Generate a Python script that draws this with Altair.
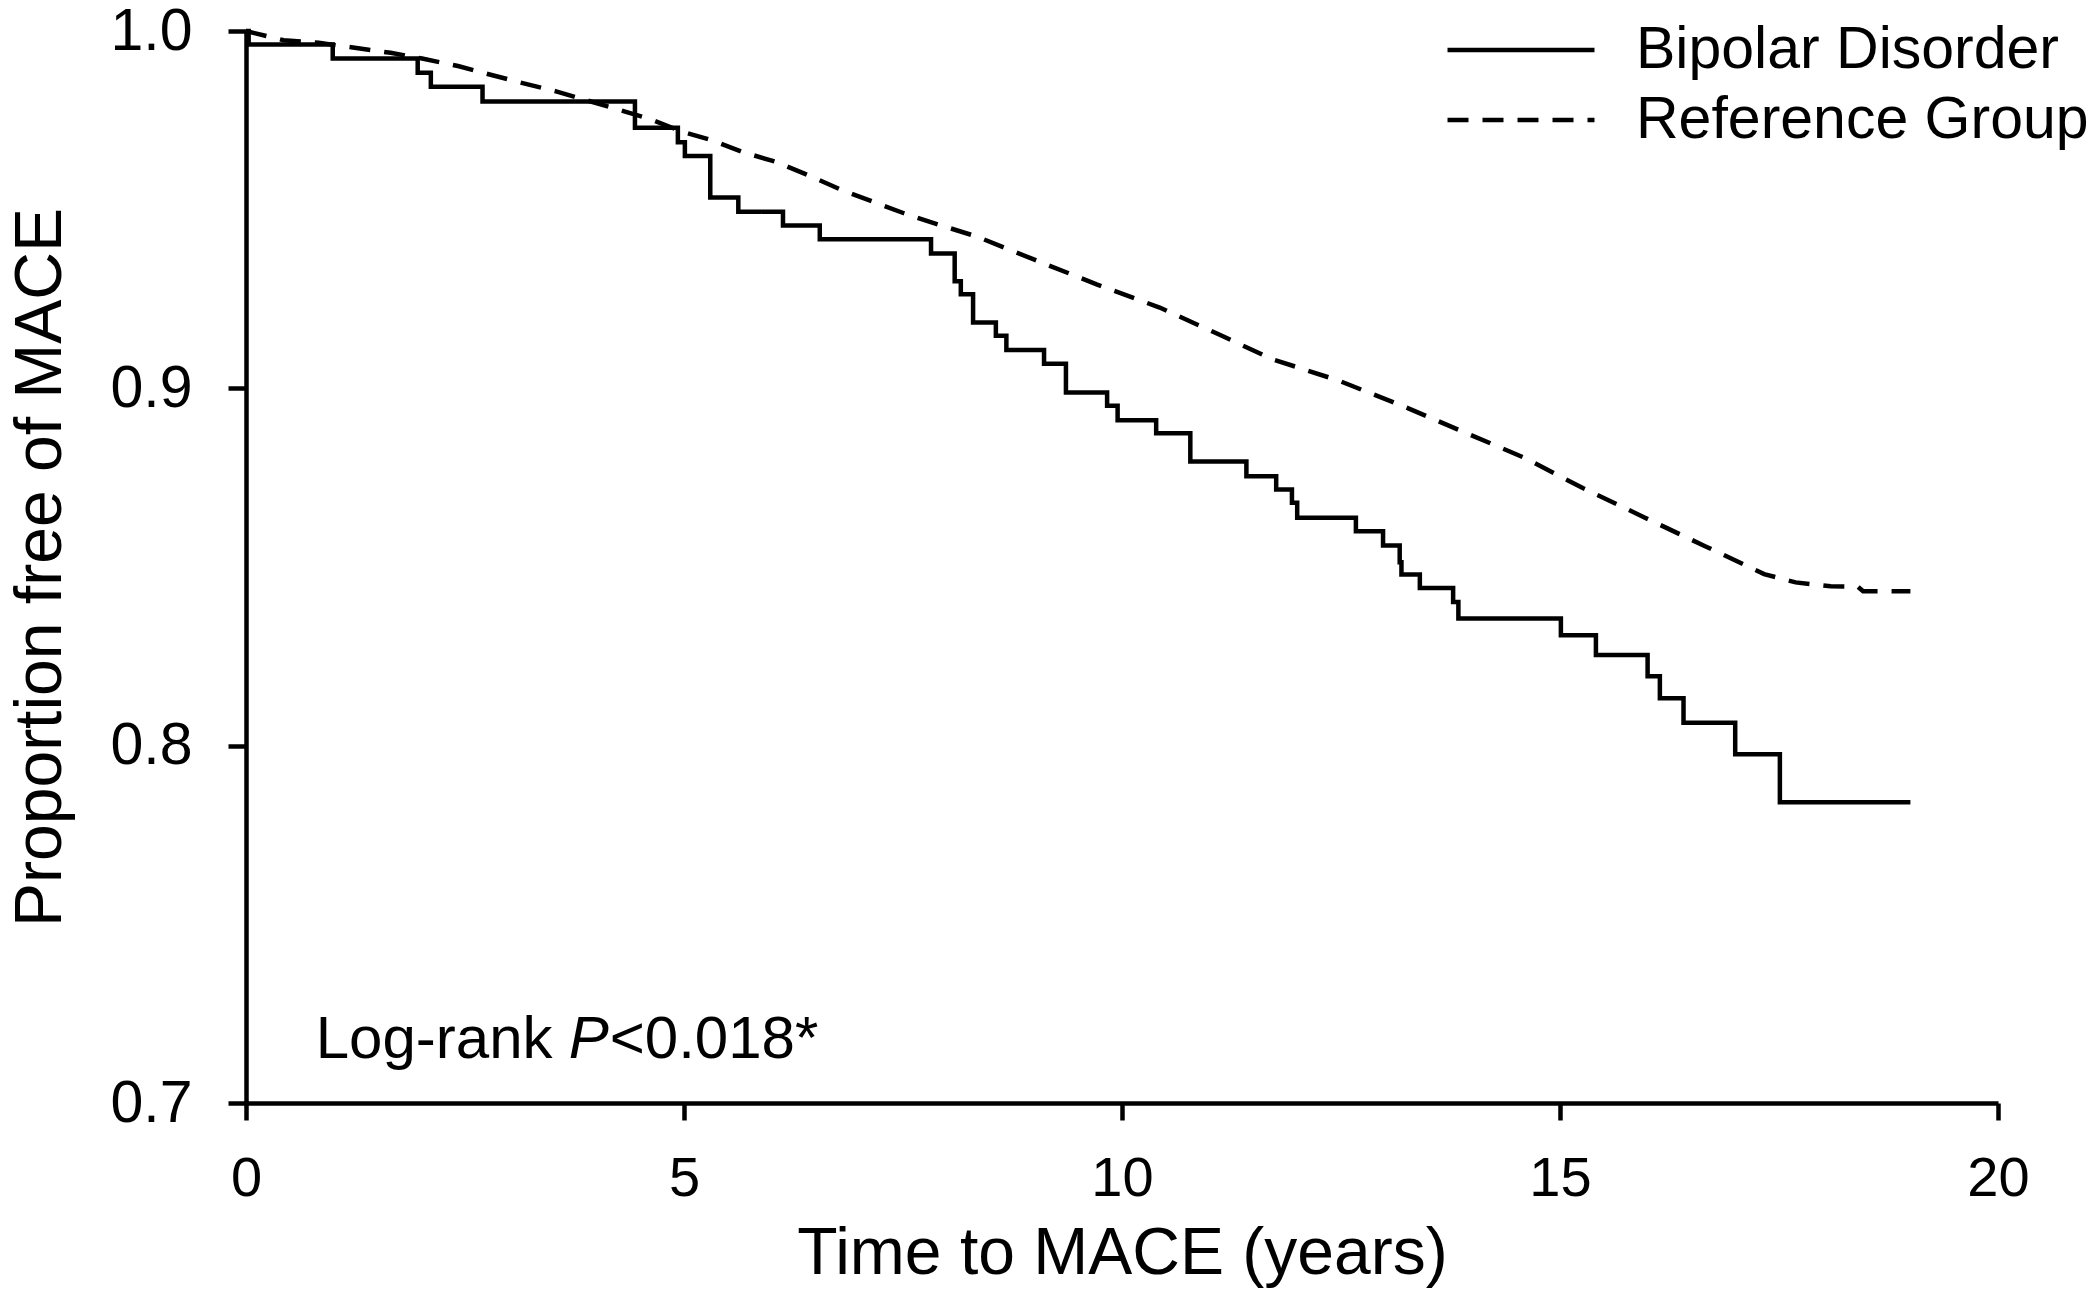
import altair as alt
import pandas as pd

# ---- data ----
groups = ["Bipolar Disorder", "Reference Group"]

bd_time = [0.0, 0.03, 0.99, 1.96, 2.11, 2.70, 4.44, 4.93, 5.01, 5.30, 5.62, 6.13,
           6.55, 7.82, 8.09, 8.16, 8.30, 8.56, 8.68, 9.11, 9.36, 9.83, 9.95,
           10.39, 10.78, 11.42, 11.76, 11.94, 12.00, 12.67, 12.98, 13.17, 13.19,
           13.40, 13.78, 13.84, 15.01, 15.41, 16.00, 16.14, 16.41, 17.00, 17.51,
           19.00]
bd_surv = [1.000, 0.9962, 0.9923, 0.9883, 0.9844, 0.9803, 0.9729, 0.9689, 0.9650,
           0.9534, 0.9494, 0.9456, 0.9417, 0.9377, 0.9300, 0.9263, 0.9184, 0.9147,
           0.9107, 0.9069, 0.8988, 0.8951, 0.8911, 0.8874, 0.8795, 0.8754, 0.8717,
           0.8680, 0.8638, 0.8600, 0.8560, 0.8513, 0.8479, 0.8441, 0.8402, 0.8356,
           0.8309, 0.8254, 0.8194, 0.8133, 0.8064, 0.7976, 0.7842, 0.7842]

ref_time = [0.0, 0.43, 0.83, 1.30, 1.65, 2.01, 2.42, 2.77, 3.13, 3.54, 3.89, 4.25,
            4.61, 4.97, 5.32, 5.67, 6.06, 6.42, 6.80, 7.16, 7.51, 7.79, 8.34, 9.00,
            9.71, 10.43, 11.14, 11.71, 12.47, 13.18, 13.89, 14.60, 15.26, 15.97,
            16.65, 17.33, 17.69, 18.09, 18.40, 18.46, 19.00]
ref_surv = [1.000, 0.9974, 0.9967, 0.9951, 0.9939, 0.9923, 0.9902, 0.9879, 0.9856,
            0.9831, 0.9806, 0.9780, 0.9754, 0.9719, 0.9694, 0.9661, 0.9633, 0.9596,
            0.9555, 0.9522, 0.9490, 0.9467, 0.9425, 0.9360, 0.9291, 0.9226, 0.9147,
            0.9082, 0.9022, 0.8953, 0.8879, 0.8805, 0.8721, 0.8638, 0.8559, 0.8480,
            0.8457, 0.8446, 0.8445, 0.8432, 0.8432]

x_ticks = [0, 5, 10, 15, 20]
y_ticks = [0.7, 0.8, 0.9, 1.0]
ann_parts = ["Log-rank", "P", "<0.018*"]
ann_x, ann_y = 0.796, 0.7126   # annotation anchor in data units

df = pd.DataFrame({
    "time": bd_time + ref_time,
    "surv": bd_surv + ref_surv,
    "group": [groups[0]] * len(bd_time) + [groups[1]] * len(ref_time),
})

FONT = "Liberation Sans"
W, H = 1752, 1072

x_enc = alt.X(
    "time:Q",
    scale=alt.Scale(domain=[0, 20], nice=False, zero=False),
    axis=alt.Axis(
        values=x_ticks, format="d", title="Time to MACE (years)", grid=False,
        domainColor="black", domainWidth=4.5, tickColor="black", tickWidth=4.5,
        tickSize=17, labelFontSize=56, labelColor="black", labelBaseline="alphabetic",
        labelPadding=75, labelFlush=False, labelOverlap=False,
        labelFont=FONT, titleFont=FONT, titleFontSize=66,
        titleFontWeight="normal", titleColor="black", titleBaseline="alphabetic",
        titleAlign="center", titleX=876, titleY=170,
    ),
)
y_enc = alt.Y(
    "surv:Q",
    scale=alt.Scale(domain=[0.7, 1.0], nice=False, zero=False),
    axis=alt.Axis(
        values=y_ticks, format=".1f", title="Proportion free of MACE", grid=False,
        domainColor="black", domainWidth=4.5, tickColor="black", tickWidth=4.5,
        tickSize=18, labelFontSize=59, labelColor="black", labelBaseline="middle",
        labelPadding=36, labelFlush=False, labelOverlap=False,
        labelFont=FONT, titleFont=FONT, titleFontSize=66,
        titleFontWeight="normal", titleColor="black", titleBaseline="alphabetic",
        titleAlign="center", titleAngle=270, titleX=-186, titleY=536,
    ),
)
dash = alt.StrokeDash(
    "group:N",
    scale=alt.Scale(domain=groups, range=[[1, 0], [21, 14]]),
    legend=alt.Legend(
        title=None, orient="none", legendX=1199, legendY=-13, padding=0,
        symbolType="stroke", symbolSize=21609, symbolStrokeWidth=4.5,
        symbolStrokeColor="black", labelFontSize=59, labelFont=FONT,
        labelColor="black", labelOffset=39, labelLimit=800, rowPadding=6,
        clipHeight=64,
    ),
)

base = alt.Chart(df)
bd_line = base.transform_filter(alt.datum.group == groups[0]).mark_line(
    interpolate="step-after", color="black", strokeWidth=4.5
).encode(x=x_enc, y=y_enc, strokeDash=dash)
ref_line = base.transform_filter(alt.datum.group == groups[1]).mark_line(
    color="black", strokeWidth=4.5
).encode(x=x_enc, y=y_enc, strokeDash=dash)

ann_df = pd.DataFrame({"part": ann_parts})
ann_offsets = [0, 253, 294]
ann_styles = ["normal", "italic", "normal"]
ann_layers = []
for part, off, sty in zip(ann_parts, ann_offsets, ann_styles):
    ann_layers.append(
        alt.Chart(ann_df).transform_filter(alt.datum.part == part).mark_text(
            align="left", baseline="alphabetic", fontSize=60, font=FONT,
            fontStyle=sty, color="black", dx=off
        ).encode(x=alt.datum(ann_x), y=alt.datum(ann_y), text="part:N")
    )

chart = alt.layer(bd_line, ref_line, *ann_layers).properties(
    width=W, height=H,
    autosize=alt.AutoSizeParams(type="none"),
    padding={"left": 238, "top": 23, "right": 94, "bottom": 185},
).configure(font=FONT).configure_view(strokeWidth=0, stroke="transparent")

chart.save("out.html", embed_options={"renderer": "svg", "actions": False})
